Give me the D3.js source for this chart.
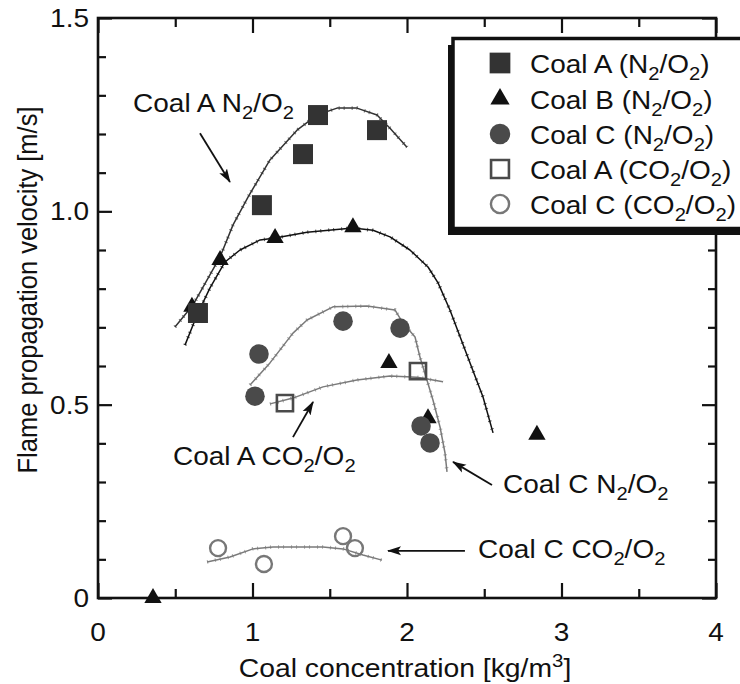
<!DOCTYPE html>
<html>
<head>
<meta charset="utf-8">
<script src="https://cdn.jsdelivr.net/npm/d3@7"></script>
<style>
  html, body { margin: 0; padding: 0; background: #fff; }
  svg { display: block; font-family: "Liberation Sans", Arial, Helvetica, sans-serif; }
</style>
</head>
<body>
<svg id="chart" width="740" height="684"></svg>
<script>
// ---- Measured points (coal concentration kg/m3, flame propagation velocity m/s) ----
const coalA_N2_x = [0.647, 1.061, 1.327, 1.424, 1.806];
const coalA_N2_y = [0.737, 1.016, 1.148, 1.249, 1.210];

const coalB_N2_x = [0.356, 0.608, 0.790, 1.146, 1.650, 1.883, 2.136, 2.841];
const coalB_N2_y = [0.000, 0.753, 0.874, 0.931, 0.959, 0.608, 0.465, 0.422];

const coalC_N2_x = [1.042, 1.016, 1.586, 1.955, 2.091, 2.149];
const coalC_N2_y = [0.631, 0.522, 0.716, 0.698, 0.445, 0.401];

const coalA_CO2_x = [1.210, 2.071];
const coalA_CO2_y = [0.504, 0.587];

const coalC_CO2_x = [0.777, 1.074, 1.586, 1.663];
const coalC_CO2_y = [0.129, 0.088, 0.160, 0.129];

// ---- Calculated propagation curves ----
const curveA_N2_x = [0.498, 0.615, 0.790, 0.874, 0.971, 1.113, 1.288, 1.417, 1.547, 1.676, 1.806, 1.890, 2.000];
const curveA_N2_y = [0.701, 0.758, 0.882, 0.965, 1.037, 1.133, 1.210, 1.249, 1.267, 1.267, 1.249, 1.215, 1.166];

const curveB_N2_x = [0.563, 0.641, 0.725, 0.822, 0.919, 1.049, 1.146, 1.353, 1.650, 1.780, 1.890, 2.019, 2.136, 2.201, 2.278, 2.408, 2.492, 2.557];
const curveB_N2_y = [0.654, 0.732, 0.802, 0.869, 0.900, 0.926, 0.931, 0.946, 0.957, 0.951, 0.934, 0.900, 0.856, 0.815, 0.745, 0.608, 0.520, 0.427];

const curveC_N2_x = [0.984, 1.113, 1.262, 1.353, 1.521, 1.741, 1.922, 1.974, 2.052, 2.084, 2.129, 2.168, 2.214, 2.246, 2.259];
const curveC_N2_y = [0.551, 0.608, 0.685, 0.719, 0.753, 0.755, 0.745, 0.711, 0.675, 0.623, 0.564, 0.512, 0.442, 0.375, 0.326];

const curveA_CO2_x = [1.113, 1.262, 1.456, 1.676, 1.890, 2.065, 2.233];
const curveA_CO2_y = [0.502, 0.517, 0.546, 0.564, 0.574, 0.571, 0.559];

const curveC_CO2_x = [0.706, 0.854, 1.003, 1.133, 1.456, 1.586, 1.715, 1.838];
const curveC_CO2_y = [0.093, 0.106, 0.127, 0.132, 0.132, 0.127, 0.111, 0.098];

// ---- Axis ticks ----
const xTickValues = [0, 1, 2, 3, 4];
const xTickLabels = ["0", "1", "2", "3", "4"];
const xMinorTicks = [0.5, 1.5, 2.5, 3.5];
const yTickValues = [0, 0.5, 1.0, 1.5];
const yTickLabels = ["0", "0.5", "1.0", "1.5"];
const yMinorTicks = [0.1, 0.2, 0.3, 0.4, 0.6, 0.7, 0.8, 0.9, 1.1, 1.2, 1.3, 1.4];

const legendLabels = [
  ["Coal A (N", ["2", "sub"], "/O", ["2", "sub"], ")"],
  ["Coal B (N", ["2", "sub"], "/O", ["2", "sub"], ")"],
  ["Coal C (N", ["2", "sub"], "/O", ["2", "sub"], ")"],
  ["Coal A (CO", ["2", "sub"], "/O", ["2", "sub"], ")"],
  ["Coal C (CO", ["2", "sub"], "/O", ["2", "sub"], ")"]
];

// ---- Layout ----
const svg = d3.select("#chart");
const X0 = 98, X1 = 716, Y0 = 598, Y1 = 18;
const x = d3.scaleLinear().domain([0, 4]).range([X0, X1]);
const y = d3.scaleLinear().domain([0, 1.5]).range([Y0, Y1]);
const INK = "#111";
const GREY = "#7a7a7a";
const SX = 1.12; // horizontal text widening

svg.append("rect").attr("width", 740).attr("height", 684).attr("fill", "#fff");

// Text helper with sub/superscript parts
function richText(parent, px, py, anchor, size, parts, vertical) {
  const g = parent.append("g").attr("transform", vertical
    ? `translate(${px},${py}) rotate(-90) scale(1,${SX})`
    : `translate(${px},${py}) scale(${SX},1)`);
  const t = g.append("text").attr("text-anchor", anchor).attr("font-size", size).attr("fill", INK);
  let shift = 0;
  parts.forEach(p => {
    const str = typeof p === "string" ? p : p[0];
    const kind = typeof p === "string" ? null : p[1];
    const target = kind === "sub" ? size * 0.28 : kind === "sup" ? -size * 0.4 : 0;
    const ts = t.append("tspan").text(str).attr("dy", target - shift);
    if (kind) ts.attr("font-size", size * 0.72);
    shift = target;
  });
  return g;
}

// ---- Ticks on all four sides, pointing inward ----
function tickLines(axis, values, len, transform) {
  const g = svg.append("g").attr("transform", transform)
    .call(axis.tickValues(values).tickSizeInner(-len).tickSizeOuter(0).tickFormat(""));
  g.select(".domain").remove();
  g.selectAll(".tick line").attr("stroke", INK).attr("stroke-width", 2.2);
}
tickLines(d3.axisBottom(x), xTickValues, 15, `translate(0,${Y0})`);
tickLines(d3.axisBottom(x), xMinorTicks, 9, `translate(0,${Y0})`);
tickLines(d3.axisTop(x), xTickValues, 15, `translate(0,${Y1})`);
tickLines(d3.axisTop(x), xMinorTicks, 9, `translate(0,${Y1})`);
tickLines(d3.axisLeft(y), yTickValues, 14, `translate(${X0},0)`);
tickLines(d3.axisLeft(y), yMinorTicks, 8, `translate(${X0},0)`);
tickLines(d3.axisRight(y), yTickValues, 14, `translate(${X1},0)`);
tickLines(d3.axisRight(y), yMinorTicks, 8, `translate(${X1},0)`);

// Frame
svg.append("rect").attr("x", X0).attr("y", Y1).attr("width", X1 - X0).attr("height", Y0 - Y1)
  .attr("fill", "none").attr("stroke", INK).attr("stroke-width", 2.6);

// Tick labels
xTickValues.forEach((v, i) => richText(svg, x(v), 641, "middle", 25, [xTickLabels[i]]));
yTickValues.forEach((v, i) => richText(svg, 89, y(v) + 9, "end", 25, [yTickLabels[i]]));

// Axis titles
richText(svg, 405, 677, "middle", 25.3, ["Coal concentration [kg/m", ["3", "sup"], "]"]);
richText(svg, 37, 290, "middle", 25.5, ["Flame propagation velocity [m/s]"], true);

// ---- Curves (thin trace plus short cross-hatch ticks along it) ----
const line = d3.line().x(d => x(d[0])).y(d => y(d[1]));
function curve(xs, ys, color) {
  const pts = xs.map((v, i) => [v, ys[i]]);
  svg.append("path").datum(pts)
    .attr("d", line).attr("fill", "none").attr("stroke", color)
    .attr("stroke-width", 1.5).attr("stroke-linejoin", "round");
  svg.append("path").datum(pts)
    .attr("d", line).attr("fill", "none").attr("stroke", color)
    .attr("stroke-width", 3.6).attr("stroke-dasharray", "1 7 1 4").attr("stroke-opacity", 0.7);
}
curve(curveC_CO2_x, curveC_CO2_y, GREY);
curve(curveA_CO2_x, curveA_CO2_y, GREY);
curve(curveC_N2_x, curveC_N2_y, GREY);
curve(curveB_N2_x, curveB_N2_y, INK);
curve(curveA_N2_x, curveA_N2_y, "#333");

// ---- Markers ----
const sym = {
  sqFill: { type: d3.symbolSquare, size: 400, fill: "#333", stroke: "none" },
  tri:    { type: d3.symbolTriangle, size: 130, fill: INK, stroke: "none" },
  circ:   { type: d3.symbolCircle, size: 300, fill: "#4a4a4a", stroke: "none" },
  sqOpen: { type: d3.symbolSquare, size: 260, fill: "none", stroke: "#4a4a4a", sw: 2.6 },
  cOpen:  { type: d3.symbolCircle, size: 200, fill: "none", stroke: "#777", sw: 2.4 }
};
function markers(xs, ys, s) {
  svg.append("g").selectAll("path").data(xs.map((v, i) => [v, ys[i]])).join("path")
    .attr("transform", d => `translate(${x(d[0])},${y(d[1])})`)
    .attr("d", d3.symbol().type(s.type).size(s.size))
    .attr("fill", s.fill).attr("stroke", s.stroke).attr("stroke-width", s.sw || 0);
}
markers(coalB_N2_x, coalB_N2_y, sym.tri);
markers(coalC_N2_x, coalC_N2_y, sym.circ);
markers(coalA_N2_x, coalA_N2_y, sym.sqFill);
markers(coalA_CO2_x, coalA_CO2_y, sym.sqOpen);
markers(coalC_CO2_x, coalC_CO2_y, sym.cOpen);

// ---- Annotations with arrows ----
svg.append("defs").append("marker")
  .attr("id", "head").attr("viewBox", "0 -5 14 10").attr("refX", 13).attr("refY", 0)
  .attr("markerWidth", 14).attr("markerHeight", 10).attr("markerUnits", "userSpaceOnUse")
  .attr("orient", "auto")
  .append("path").attr("d", "M0,-4.5L14,0L0,4.5L3,0Z").attr("fill", INK);

const notes = [
  { from: [0.660, 1.202], to: [0.854, 1.076], at: [0.227, 1.257],
    parts: ["Coal A N", ["2", "sub"], "/O", ["2", "sub"]] },
  { from: [1.262, 0.416], to: [1.392, 0.507], at: [0.485, 0.344],
    parts: ["Coal A CO", ["2", "sub"], "/O", ["2", "sub"]] },
  { from: [2.550, 0.292], to: [2.298, 0.352], at: [2.621, 0.272],
    parts: ["Coal C N", ["2", "sub"], "/O", ["2", "sub"]] },
  { from: [2.375, 0.122], to: [1.877, 0.122], at: [2.460, 0.103],
    parts: ["Coal C CO", ["2", "sub"], "/O", ["2", "sub"]] }
];
notes.forEach(n => {
  svg.append("line")
    .attr("x1", x(n.from[0])).attr("y1", y(n.from[1]))
    .attr("x2", x(n.to[0])).attr("y2", y(n.to[1]))
    .attr("stroke", INK).attr("stroke-width", 1.8).attr("marker-end", "url(#head)");
  richText(svg, x(n.at[0]), y(n.at[1]), "start", 25, n.parts);
});

// ---- Legend ----
const lg = svg.append("g");
lg.append("rect").attr("x", 448).attr("y", 45).attr("width", 330).attr("height", 190).attr("fill", INK);
lg.append("rect").attr("x", 453).attr("y", 38.5).attr("width", 330).attr("height", 190)
  .attr("fill", "#fff").attr("stroke", INK).attr("stroke-width", 3.5);
const legendSyms = [sym.sqFill, sym.tri, sym.circ, sym.sqOpen, sym.cOpen];
const legendRowY = [63, 99, 134, 169, 204];
legendSyms.forEach((s, i) => {
  lg.append("path").attr("transform", `translate(500,${legendRowY[i]})`)
    .attr("d", d3.symbol().type(s.type).size(s.size + (s.stroke === "none" ? 30 : 60)))
    .attr("fill", s.fill).attr("stroke", s.stroke).attr("stroke-width", s.sw || 0);
  richText(lg, 530, legendRowY[i] + 9.5, "start", 25, legendLabels[i]);
});
</script>
</body>
</html>
